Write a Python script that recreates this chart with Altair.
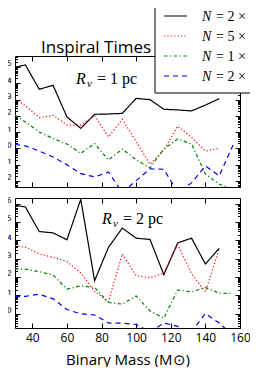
import math
import altair as alt
import pandas as pd

# ---------------- data ----------------
masses = [30, 36, 44, 52, 60, 68, 76, 84, 92, 100, 108, 116, 124, 132, 140, 148, 156]
series_names = ["N = 2 × 10⁵", "N = 5 × 10⁴", "N = 1 × 10⁴", "N = 2 × 10³"]
series_colors = ["#000000", "#ff0000", "#008000", "#0000ff"]
series_dashes = [[1, 0], [1.2, 2.2], [3.5, 2.5, 1.2, 2.5], [5, 4]]

# log10(inspiral time), R_v = 1 pc
rv1_black = [4.99, 5.12, 3.63, 3.87, 1.93, 1.23, 2.09, 2.11, 2.15, 3.07, 2.99, 2.40, 2.36, 2.30, 2.66, 3.05, None]
rv1_red = [3.03, 2.63, 1.88, 2.03, 1.43, 1.43, 1.99, 0.70, 1.79, 0.42, -0.98, -0.10, 1.37, 0.67, -0.16, 0.00, None]
rv1_green = [2.05, 1.62, 1.01, 0.61, 0.27, -0.31, 0.30, -0.71, -0.04, -0.70, -1.20, -0.04, 0.58, 0.27, -1.57, -2.20, -2.50]
rv1_blue = [0.24, 0.15, -0.16, -0.53, -1.00, -1.55, -1.75, -1.45, -2.70, -1.98, -1.26, -1.28, -2.70, -2.12, -1.08, -1.69, 0.21]

# log10(inspiral time), R_v = 2 pc
rv2_black = [5.90, 5.81, 4.47, 4.40, 4.02, 6.23, 1.79, 3.61, 4.66, 4.11, 4.04, 2.12, 3.85, 4.11, 2.70, 3.56, None]
rv2_red = [3.71, 3.62, 3.25, 3.07, 2.83, 2.21, 1.21, 0.64, 3.25, 2.06, 1.95, 2.21, 3.76, 2.17, 1.18, 3.53, None]
rv2_green = [2.43, 2.42, 2.28, 2.10, 1.33, 1.51, 1.42, 0.60, 0.51, 0.96, 0.14, -0.25, 1.29, 1.18, 1.42, 1.11, 1.09]
rv2_blue = [0.91, 0.94, 1.05, 0.80, 0.22, -0.02, -0.08, -0.52, -0.52, -0.60, -1.00, -0.52, -0.70, -1.00, 0.00, -0.52, -1.20]

x_domain = [30, 160]
x_ticks = [40, 60, 80, 100, 120, 140, 160]
rv1_ylog = [-2.37, 5.67]
rv2_ylog = [-0.79, 6.30]

SANS = "Open Sans"
SERIF = "Liberation Serif"
SUPS = "['⁰','¹','²','³','⁴','⁵','⁶','⁷','⁸','⁹']"
LABEL_EXPR = ("'10' + (datum.value < 1 ? '⁻' : '') + " + SUPS +
              "[abs(round(log(datum.value) / LN10))]")


def make_frame(series_values):
    rows = []
    for name, vals in zip(series_names, series_values):
        for m, v in zip(masses, vals):
            if v is not None:
                rows.append({"mass": m, "time": 10.0 ** v, "series": name})
    return pd.DataFrame(rows)


def tick_axis(orient, values, size, **kw):
    return alt.Axis(orient=orient, values=values, tickSize=size, offset=-size,
                    domain=False, grid=False, ticks=True, tickColor="black",
                    tickWidth=1, minExtent=0, **kw)


def text_mark(txt, x, y, size, font=SERIF, style="normal", baseline="alphabetic"):
    return alt.Chart(pd.DataFrame({"label": [txt]})).mark_text(
        font=font, fontSize=size, fontStyle=style, align="left",
        baseline=baseline, color="black"
    ).encode(x=alt.value(x), y=alt.value(y), text="label:N")


def panel(series_values, ylog, height, bottom_panel, extra):
    df = make_frame(series_values)
    lo, hi = ylog
    major = [10.0 ** k for k in range(math.ceil(lo), math.floor(hi) + 1)]
    minor = [m * 10.0 ** k for k in range(math.floor(lo), math.ceil(hi) + 1)
             for m in range(2, 10) if lo <= math.log10(m) + k <= hi]
    xs = alt.Scale(domain=x_domain, nice=False, zero=False)
    ys = alt.Scale(type="log", domain=[10.0 ** lo, 10.0 ** hi], nice=False)

    if bottom_panel:
        x_bottom = tick_axis("bottom", x_ticks, 5, labels=True, labelFont=SANS,
                             labelFontSize=12, labelColor="black", labelPadding=4,
                             labelFlush=False, title="Binary Mass (M⊙)",
                             titleFont=SANS, titleFontSize=15,
                             titleFontWeight="normal", titleColor="black",
                             titlePadding=9)
    else:
        x_bottom = tick_axis("bottom", x_ticks, 5, labels=False, title=None)
    y_left = tick_axis("left", major, 5, labels=True, labelFont=SANS,
                       labelFontSize=12, labelColor="black", labelPadding=4,
                       labelExpr=LABEL_EXPR, title=None)

    color = alt.Color("series:N", scale=alt.Scale(domain=series_names, range=series_colors), legend=None)
    dash = alt.StrokeDash("series:N", scale=alt.Scale(domain=series_names, range=series_dashes), legend=None)

    ghost = alt.Chart(df).mark_line(strokeOpacity=0, clip=True)
    layer_top_right = ghost.encode(
        x=alt.X("mass:Q", scale=xs, axis=tick_axis("top", x_ticks, 5, labels=False, title=None)),
        y=alt.Y("time:Q", scale=ys, axis=tick_axis("right", major, 5, labels=False, title=None)),
        detail="series:N")
    layer_minor_left = ghost.encode(
        x=alt.X("mass:Q", scale=xs, axis=None),
        y=alt.Y("time:Q", scale=ys, axis=tick_axis("left", minor, 2.5, labels=False, title=None)),
        detail="series:N")
    layer_minor_right = ghost.encode(
        x=alt.X("mass:Q", scale=xs, axis=None),
        y=alt.Y("time:Q", scale=ys, axis=tick_axis("right", minor, 2.5, labels=False, title=None)),
        detail="series:N")
    lines = alt.Chart(df).mark_line(strokeWidth=1.2, clip=True).encode(
        x=alt.X("mass:Q", scale=xs, axis=x_bottom),
        y=alt.Y("time:Q", scale=ys, axis=y_left),
        color=color, strokeDash=dash)

    layers = [layer_top_right, layer_minor_left, layer_minor_right, lines] + extra
    return alt.layer(*layers).resolve_axis(x="independent", y="independent").properties(
        width=225, height=height)


# annotations, title and legend of the upper panel (pixel positions in the view)
top_extra = [
    text_mark("Inspiral Times", 26, -3, 17, font=SANS),
    text_mark("R", 61, 28, 16, style="italic"),
    text_mark("v", 72, 31, 11, style="italic"),
    text_mark("= 1 pc", 82, 28, 16),
    alt.Chart(pd.DataFrame({"k": [0]})).mark_rect(fill="white", stroke="black", strokeWidth=1).encode(
        x=alt.value(140), x2=alt.value(274), y=alt.value(-50), y2=alt.value(37)),
]
for i, name in enumerate(series_names):
    row_y = -40 + 20 * i
    top_extra.append(
        alt.Chart(pd.DataFrame({"k": [0]})).mark_rule(
            color=series_colors[i], strokeDash=series_dashes[i], strokeWidth=1.2
        ).encode(x=alt.value(149), x2=alt.value(172), y=alt.value(row_y)))
    top_extra.append(text_mark(name.split(" ", 1)[0], 187, row_y + 5, 14, style="italic"))
    top_extra.append(text_mark(name.split(" ", 1)[1], 201, row_y + 5, 14))

bottom_extra = [
    text_mark("R", 87, 26, 16, style="italic"),
    text_mark("v", 98, 29, 11, style="italic"),
    text_mark("= 2 pc", 108, 26, 16),
]

top = panel([rv1_black, rv1_red, rv1_green, rv1_blue], rv1_ylog, 131, False, top_extra)
bottom = panel([rv2_black, rv2_red, rv2_green, rv2_blue], rv2_ylog, 130, True, bottom_extra)

chart = alt.vconcat(top, bottom, spacing=11, bounds="flush").properties(
    padding={"left": -20, "top": -3, "right": -40, "bottom": -1}
).configure_view(stroke="black", strokeWidth=1)

chart.save("out.html", embed_options={"renderer": "svg", "actions": False})
